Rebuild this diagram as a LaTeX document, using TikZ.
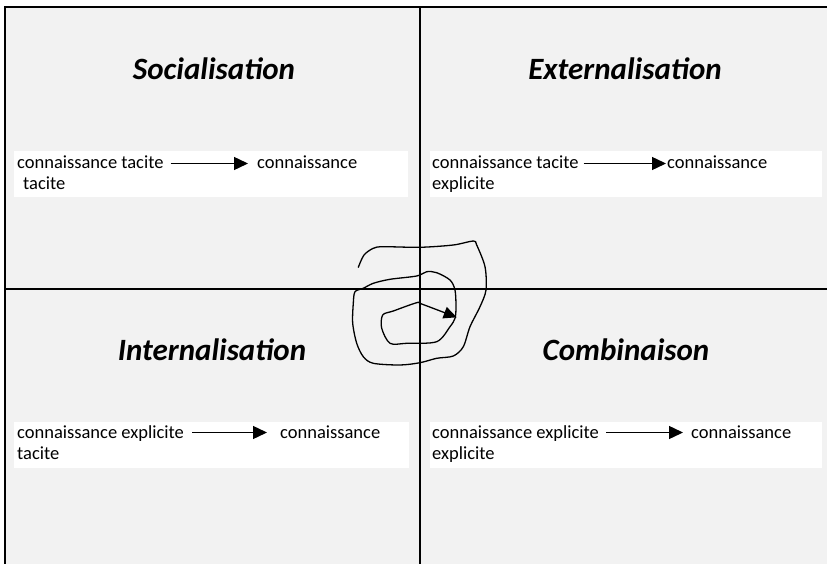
\documentclass[tikz,border=0pt]{standalone}
\usepackage{fontspec}
\setmainfont{Carlito}
\usetikzlibrary{arrows.meta}
\definecolor{panel}{HTML}{F2F2F2}
\begin{document}
\begin{tikzpicture}[x=1pt,y=-1pt,
  title/.style={font=\fontsize{31}{35}\selectfont\bfseries\itshape, anchor=base, inner sep=0},
  txt/.style={font=\fontsize{18.5}{22}\selectfont, anchor=base west, inner sep=0},
  card/.style={fill=white, draw=none},
  flow/.style={-{Triangle[length=14pt,width=13pt]}, line width=1.4pt},
  rule/.style={line width=2pt},
  spiral/.style={line width=1.3pt, line cap=round, line join=round,
                 -{Triangle[length=13pt,width=12pt]}}]

% page and panel background
\useasboundingbox (0,0) rectangle (827,564);
\fill[white] (0,0) rectangle (827,564);
\fill[panel] (5,7) rectangle (827,564);

% white cards behind the text lines
\fill[card] (14,151) rectangle (408,197);
\fill[card] (430,151) rectangle (822,197);
\fill[card] (14,422) rectangle (409,468);
\fill[card] (430,422) rectangle (822,468);

% frame and quadrant dividers
\draw[rule] (5,564) -- (5,7) -- (827,7);
\draw[rule] (420,7) -- (420,564);
\draw[rule] (5,289) -- (827,289);

% quadrant titles
\node[title] (soc) at (214,80) {Socialisation};
\node[title] (ext) at (625,80) {Externalisation};
\node[title] (int) at (212,360) {Internalisation};
\node[title] (com) at (626,360) {Combinaison};

% top-left
\node[txt] (a1) at (17,169) {connaissance tacite};
\node[txt] (a2) at (257,169) {connaissance};
\node[txt] (a3) at (23,190) {tacite};
\draw[flow] ([xshift=7pt,yshift=5.5pt]a1.base east) -- ([xshift=-9pt,yshift=5.5pt]a2.base west);

% top-right
\node[txt] (b1) at (432,169) {connaissance tacite};
\node[txt] (b2) at (667,169) {connaissance};
\node[txt] (b3) at (432,190) {explicite};
\draw[flow] ([xshift=5pt,yshift=5.5pt]b1.base east) -- ([xshift=-1pt,yshift=5.5pt]b2.base west);

% bottom-left
\node[txt] (c1) at (17,438) {connaissance explicite};
\node[txt] (c2) at (280,438) {connaissance};
\node[txt] (c3) at (17,459) {tacite};
\draw[flow] ([xshift=8pt,yshift=5.5pt]c1.base east) -- ([xshift=-13pt,yshift=5.5pt]c2.base west);

% bottom-right
\node[txt] (d1) at (432,438) {connaissance explicite};
\node[txt] (d2) at (691,438) {connaissance};
\node[txt] (d3) at (432,459) {explicite};
\draw[flow] ([xshift=7pt,yshift=5.5pt]d1.base east) -- ([xshift=-8pt,yshift=5.5pt]d2.base west);

% hand-drawn spiral around the centre
\draw[spiral] plot[smooth, tension=0.5] coordinates {
  (358.3,267.3) (364,255) (373.3,248.3) (383.3,246.7) (420,247.3) (453.3,245)
  (473.3,241) (476.7,245) (485,266.7) (486,290) (480,306.7) (470,326.7)
  (463.3,346.7) (453.3,356) (436.7,358.3) (420,362.7) (400,365) (373.3,363.3)
  (363.3,356.7) (356.7,343.3) (352.7,323.3) (353.3,303.3) (355,291.7)
  (363.3,288.3) (373.3,283.3) (390,279.3) (416.7,276) (426.7,271.7)
  (436.7,272.7) (450,280) (455,290) (456,306.7) (455,318.3) (450,326.7)
  (436.7,341.7) (406.7,343.3) (390,343.3) (381.7,328.3) (382.7,315)
  (393.3,311) (416.7,302.7) (421.7,304) (456.7,317.3)};
\end{tikzpicture}
\end{document}
